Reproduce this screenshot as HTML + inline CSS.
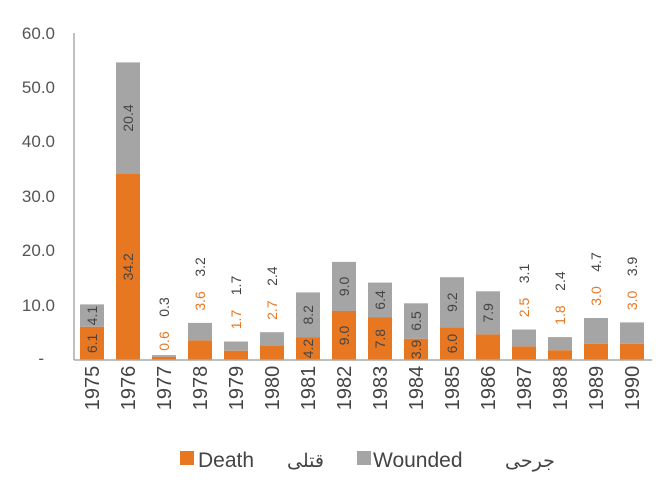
<!DOCTYPE html>
<html><head><meta charset="utf-8"><style>
body{margin:0;background:#fff}
svg{display:block;font-family:"Liberation Sans","Noto Sans CJK SC",sans-serif}
.o{fill:#e87722}.g{fill:#a5a5a5}
.l{font-size:14px;fill:#444;text-anchor:middle}
.lo{font-size:14px;fill:#e87722;text-anchor:middle}
.y{font-size:20px;fill:#444;text-anchor:middle}
</style></head><body>
<svg width="666" height="488" viewBox="0 0 666 488">
<g font-size="17" fill="#555" text-anchor="end">
<text x="55" y="39">60.0</text><text x="55" y="93">50.0</text><text x="55" y="147">40.0</text>
<text x="55" y="202">30.0</text><text x="55" y="256">20.0</text><text x="55" y="311">10.0</text>
<text x="44" y="364">-</text>
</g>
<line x1="74" y1="33" x2="74" y2="360" stroke="#aaa" stroke-width="1.5"/>

<rect class="o" x="80" y="326.8" width="24" height="33.2"/><rect class="g" x="80" y="304.4" width="24" height="22.4"/>
<rect class="o" x="116" y="173.6" width="24" height="186.4"/><rect class="g" x="116" y="62.4" width="24" height="111.2"/>
<rect class="o" x="152" y="356.7" width="24" height="3.3"/><rect class="g" x="152" y="355.1" width="24" height="1.6"/>
<rect class="o" x="188" y="340.4" width="24" height="19.6"/><rect class="g" x="188" y="322.9" width="24" height="17.5"/>
<rect class="o" x="224" y="350.7" width="24" height="9.3"/><rect class="g" x="224" y="341.5" width="24" height="9.2"/>
<rect class="o" x="260" y="345.3" width="24" height="14.7"/><rect class="g" x="260" y="332.2" width="24" height="13.1"/>
<rect class="o" x="296" y="337.1" width="24" height="22.9"/><rect class="g" x="296" y="292.4" width="24" height="44.7"/>
<rect class="o" x="332" y="311" width="24" height="49"/><rect class="g" x="332" y="261.9" width="24" height="49.1"/>
<rect class="o" x="368" y="317.5" width="24" height="42.5"/><rect class="g" x="368" y="282.6" width="24" height="34.9"/>
<rect class="o" x="404" y="338.7" width="24" height="21.3"/><rect class="g" x="404" y="303.3" width="24" height="35.4"/>
<rect class="o" x="440" y="327.3" width="24" height="32.7"/><rect class="g" x="440" y="277.2" width="24" height="50.1"/>
<rect class="o" x="476" y="334.4" width="24" height="25.6"/><rect class="g" x="476" y="291.3" width="24" height="43.1"/>
<rect class="o" x="512" y="346.4" width="24" height="13.6"/><rect class="g" x="512" y="329.5" width="24" height="16.9"/>
<rect class="o" x="548" y="350.2" width="24" height="9.8"/><rect class="g" x="548" y="337.1" width="24" height="13.1"/>
<rect class="o" x="584" y="343.7" width="24" height="16.3"/><rect class="g" x="584" y="318" width="24" height="25.7"/>
<rect class="o" x="620" y="343.7" width="24" height="16.3"/><rect class="g" x="620" y="322.4" width="24" height="21.3"/>

<line x1="74" y1="360" x2="652" y2="360" stroke="#aaa" stroke-width="1.5"/>

<text class="l" transform="translate(97,343.4) rotate(-90)">6.1</text>
<text class="l" transform="translate(97,315.6) rotate(-90)">4.1</text>
<text class="l" transform="translate(133,266.8) rotate(-90)">34.2</text>
<text class="l" transform="translate(133,118) rotate(-90)">20.4</text>
<text class="l" transform="translate(313,348.6) rotate(-90)">4.2</text>
<text class="l" transform="translate(313,314.8) rotate(-90)">8.2</text>
<text class="l" transform="translate(349,335.5) rotate(-90)">9.0</text>
<text class="l" transform="translate(349,286.4) rotate(-90)">9.0</text>
<text class="l" transform="translate(385,338.7) rotate(-90)">7.8</text>
<text class="l" transform="translate(385,300) rotate(-90)">6.4</text>
<text class="l" transform="translate(421,349.4) rotate(-90)">3.9</text>
<text class="l" transform="translate(421,321) rotate(-90)">6.5</text>
<text class="l" transform="translate(457,343.6) rotate(-90)">6.0</text>
<text class="l" transform="translate(457,302.2) rotate(-90)">9.2</text>
<text class="l" transform="translate(493,312.8) rotate(-90)">7.9</text>

<text class="lo" transform="translate(169,341) rotate(-90)">0.6</text>
<text class="l" transform="translate(169,307) rotate(-90)">0.3</text>
<text class="lo" transform="translate(205,300.9) rotate(-90)">3.6</text>
<text class="l" transform="translate(205,266.9) rotate(-90)">3.2</text>
<text class="lo" transform="translate(241,319.5) rotate(-90)">1.7</text>
<text class="l" transform="translate(241,285.5) rotate(-90)">1.7</text>
<text class="lo" transform="translate(277,310.2) rotate(-90)">2.7</text>
<text class="l" transform="translate(277,276.2) rotate(-90)">2.4</text>
<text class="lo" transform="translate(529,307.5) rotate(-90)">2.5</text>
<text class="l" transform="translate(529,273.5) rotate(-90)">3.1</text>
<text class="lo" transform="translate(565,315.1) rotate(-90)">1.8</text>
<text class="l" transform="translate(565,281.1) rotate(-90)">2.4</text>
<text class="lo" transform="translate(601,296) rotate(-90)">3.0</text>
<text class="l" transform="translate(601,262) rotate(-90)">4.7</text>
<text class="lo" transform="translate(637,300.4) rotate(-90)">3.0</text>
<text class="l" transform="translate(637,266.4) rotate(-90)">3.9</text>

<text class="y" transform="translate(99,388) rotate(-90)">1975</text>
<text class="y" transform="translate(135,388) rotate(-90)">1976</text>
<text class="y" transform="translate(171,388) rotate(-90)">1977</text>
<text class="y" transform="translate(207,388) rotate(-90)">1978</text>
<text class="y" transform="translate(243,388) rotate(-90)">1979</text>
<text class="y" transform="translate(279,388) rotate(-90)">1980</text>
<text class="y" transform="translate(315,388) rotate(-90)">1981</text>
<text class="y" transform="translate(351,388) rotate(-90)">1982</text>
<text class="y" transform="translate(387,388) rotate(-90)">1983</text>
<text class="y" transform="translate(423,388) rotate(-90)">1984</text>
<text class="y" transform="translate(459,388) rotate(-90)">1985</text>
<text class="y" transform="translate(495,388) rotate(-90)">1986</text>
<text class="y" transform="translate(531,388) rotate(-90)">1987</text>
<text class="y" transform="translate(567,388) rotate(-90)">1988</text>
<text class="y" transform="translate(603,388) rotate(-90)">1989</text>
<text class="y" transform="translate(639,388) rotate(-90)">1990</text>

<g fill="#444">
<rect x="180" y="451" width="14" height="14" fill="#e87722"/>
<text x="198" y="467" font-size="21">Death</text>
<text x="287" y="467" font-size="19">قتلى</text>
<rect x="357" y="451" width="14" height="14" fill="#a5a5a5"/>
<text x="373" y="467" font-size="21">Wounded</text>
<text x="505" y="467" font-size="19">جرحى</text>
</g>
</svg>
</body></html>
